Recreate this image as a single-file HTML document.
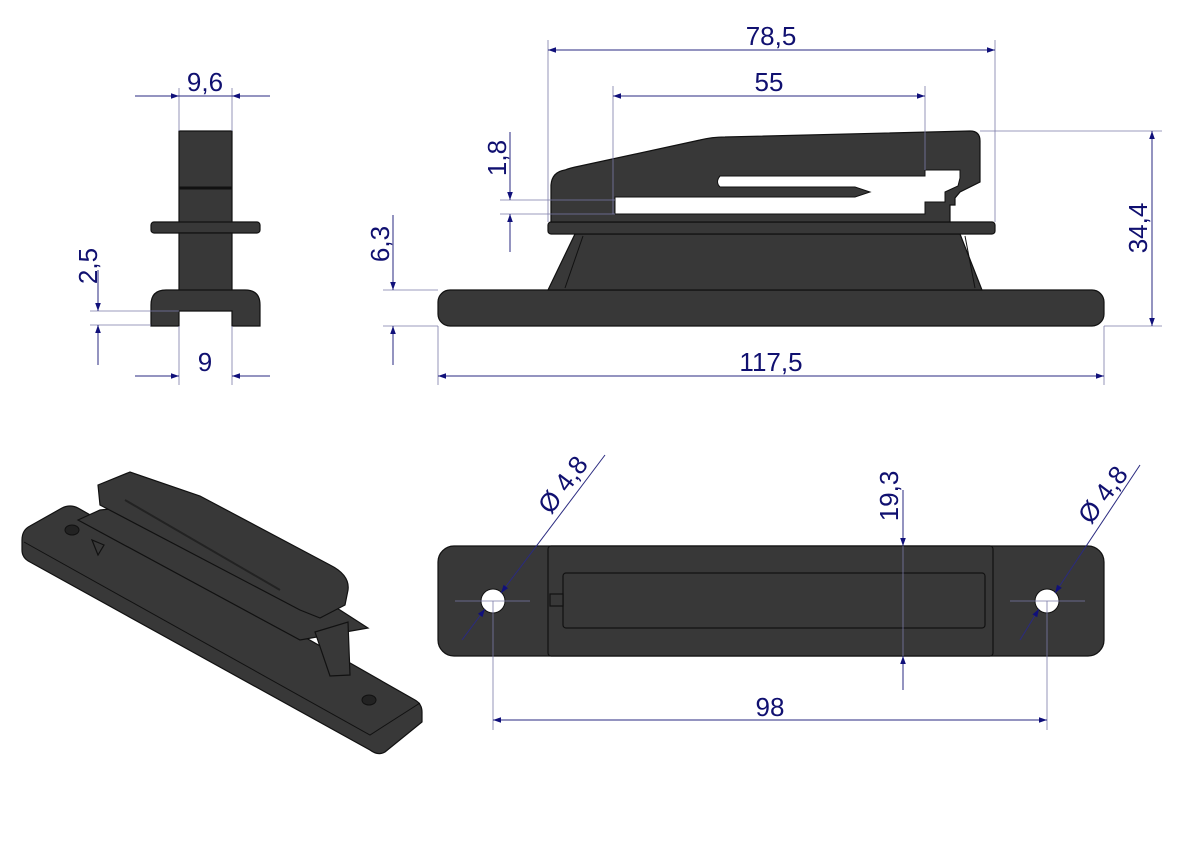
<!DOCTYPE html>
<html><head><meta charset="utf-8"><style>
html,body{margin:0;padding:0;background:#fff}
svg{display:block}
text{font-family:"Liberation Sans",sans-serif;font-size:26px;fill:#101070;text-anchor:middle}
.d{stroke:#2a2a80;stroke-width:1;fill:none}
.e{stroke:#7a7aa8;stroke-width:0.8;fill:none}
.b{fill:#383838;stroke:#111;stroke-width:1.2}
.a{fill:#10107a}
</style></head><body>
<svg width="1191" height="842" viewBox="0 0 1191 842">
<defs>
<marker id="m" viewBox="0 0 10 10" refX="10" refY="5" markerWidth="20" markerHeight="8" orient="auto-start-reverse" markerUnits="userSpaceOnUse"><path d="M0,1.5 L10,5 L0,8.5 z" class="a"/></marker>
</defs>

<!-- FRONT VIEW -->
<rect class="b" x="179" y="131" width="53" height="95"/>
<line x1="179" y1="188" x2="232" y2="188" stroke="#111" stroke-width="3"/>
<rect class="b" x="151" y="222" width="109" height="11" rx="3"/>
<rect class="b" x="179" y="233" width="53" height="60"/>
<path class="b" d="M151,326 L151,305 Q151,290 166,290 L245,290 Q260,290 260,305 L260,326 L232,326 L232,311 L179,311 L179,326 Z"/>
<line class="e" x1="179" y1="131" x2="179" y2="88"/><line class="e" x1="232" y1="131" x2="232" y2="88"/>
<line class="d" x1="135" y1="96" x2="179" y2="96" marker-end="url(#m)"/><line class="d" x1="270" y1="96" x2="232" y2="96" marker-end="url(#m)"/>
<line class="d" x1="179" y1="96" x2="232" y2="96"/>
<text x="205" y="91">9,6</text>
<line class="e" x1="179" y1="326" x2="179" y2="385"/><line class="e" x1="232" y1="326" x2="232" y2="385"/>
<line class="d" x1="135" y1="376" x2="179" y2="376" marker-end="url(#m)"/><line class="d" x1="270" y1="376" x2="232" y2="376" marker-end="url(#m)"/>
<text x="205" y="371">9</text>
<line class="e" x1="90" y1="311" x2="179" y2="311"/><line class="e" x1="90" y1="325" x2="151" y2="325"/>
<line class="d" x1="98" y1="270" x2="98" y2="311" marker-end="url(#m)"/><line class="d" x1="98" y1="365" x2="98" y2="325" marker-end="url(#m)"/>
<text transform="translate(97,266) rotate(-90)">2,5</text>

<!-- SIDE VIEW -->
<rect class="b" x="438" y="290" width="666" height="36" rx="12"/>
<path class="b" d="M548,290 L575,234 L960,234 L982,290 Z"/>
<path d="M565,288 L583,236 M965,236 L975,288" stroke="#111" stroke-width="1"/>
<rect class="b" x="548" y="222" width="447" height="12" rx="3"/>
<path class="b" d="M551,222 L551,185 Q552,172 565,170 Q570,168 580,166 L700,140 Q712,137 725,137 L970,131 Q980,131 980,141 L980,182 L960,192 L955,198 L955,205 L950,205 L950,222 Z"/>
<path fill="#fff" stroke="#111" d="M615,214 L615,197 L855,197 L870,192 L855,187 L720,187 Q715,182 720,176 L925,176 L925,170 L960,170 L960,178 L958,186 L945,192 L945,202 L925,202 L925,214 Z"/>
<line class="e" x1="548" y1="222" x2="548" y2="40"/><line class="e" x1="995" y1="222" x2="995" y2="40"/>
<line class="d" x1="548" y1="50" x2="995" y2="50" marker-start="url(#m)" marker-end="url(#m)"/>
<text x="771" y="45">78,5</text>
<line class="e" x1="613" y1="214" x2="613" y2="86"/><line class="e" x1="925" y1="170" x2="925" y2="86"/>
<line class="d" x1="613" y1="96" x2="925" y2="96" marker-start="url(#m)" marker-end="url(#m)"/>
<text x="769" y="91">55</text>
<line class="e" x1="980" y1="131" x2="1162" y2="131"/><line class="e" x1="1104" y1="326" x2="1162" y2="326"/>
<line class="d" x1="1152" y1="131" x2="1152" y2="326" marker-start="url(#m)" marker-end="url(#m)"/>
<text transform="translate(1147,228) rotate(-90)">34,4</text>
<line class="e" x1="438" y1="326" x2="438" y2="385"/><line class="e" x1="1104" y1="326" x2="1104" y2="385"/>
<line class="d" x1="438" y1="376" x2="1104" y2="376" marker-start="url(#m)" marker-end="url(#m)"/>
<text x="771" y="371">117,5</text>
<line class="e" x1="383" y1="290" x2="438" y2="290"/><line class="e" x1="383" y1="326" x2="438" y2="326"/>
<line class="d" x1="393" y1="215" x2="393" y2="290" marker-end="url(#m)"/><line class="d" x1="393" y1="365" x2="393" y2="326" marker-end="url(#m)"/>
<text transform="translate(389,244) rotate(-90)">6,3</text>
<line class="e" x1="500" y1="200" x2="615" y2="200"/><line class="e" x1="500" y1="214" x2="615" y2="214"/>
<line class="d" x1="510" y1="132" x2="510" y2="200" marker-end="url(#m)"/><line class="d" x1="510" y1="252" x2="510" y2="214" marker-end="url(#m)"/>
<text transform="translate(506,158) rotate(-90)">1,8</text>

<!-- TOP VIEW -->
<rect class="b" x="438" y="546" width="666" height="110" rx="16"/>
<rect class="b" x="548" y="546" width="445" height="110" rx="3"/>
<rect class="b" x="563" y="573" width="422" height="55" rx="3" fill="#303030"/>
<rect class="b" x="550" y="594" width="13" height="12"/>
<circle cx="493" cy="601" r="12" fill="#fff" stroke="#111"/>
<circle cx="1047" cy="601" r="12" fill="#fff" stroke="#111"/>
<line class="e" x1="455" y1="601" x2="530" y2="601"/><line class="e" x1="1010" y1="601" x2="1085" y2="601"/>
<line class="e" x1="493" y1="601" x2="493" y2="730"/><line class="e" x1="1047" y1="601" x2="1047" y2="730"/>
<line class="d" x1="493" y1="720" x2="1047" y2="720" marker-start="url(#m)" marker-end="url(#m)"/>
<text x="770" y="716">98</text>
<line class="d" x1="903" y1="490" x2="903" y2="546" marker-end="url(#m)"/><line class="d" x1="903" y1="690" x2="903" y2="656" marker-end="url(#m)"/>
<line class="e" x1="903" y1="546" x2="903" y2="656"/>
<text transform="translate(898,496) rotate(-90)">19,3</text>
<line class="d" x1="462" y1="640" x2="485" y2="609" marker-end="url(#m)"/>
<line class="d" x1="605" y1="455" x2="501" y2="593" marker-end="url(#m)"/>
<text transform="translate(570,490) rotate(-53)">Ø 4,8</text>
<line class="d" x1="1020" y1="640" x2="1039" y2="609" marker-end="url(#m)"/>
<line class="d" x1="1140" y1="465" x2="1055" y2="593" marker-end="url(#m)"/>
<text transform="translate(1110,500) rotate(-53)">Ø 4,8</text>

<!-- ISOMETRIC -->
<path class="b" d="M22,540 Q22,530 30,526 L62,508 Q70,504 78,508 L415,700 Q422,704 422,712 L422,722 L385,752 Q378,756 370,750 L30,562 Q22,558 22,550 Z"/>
<path d="M24,542 L370,735 L420,703" stroke="#111" fill="none"/>
<path class="b" d="M78,520 L300,640 L368,628 L340,610 L150,505 L100,510 Z"/>
<path class="b" d="M92,540 L98,555 L104,545 Z"/>
<path class="b" d="M315,632 L348,622 L350,675 L330,676 Z"/>
<path class="b" d="M98,485 L130,472 L200,496 L330,565 Q350,575 348,590 L345,605 L320,618 L300,610 L100,505 Z"/>
<path d="M125,500 L280,590" stroke="#222" stroke-width="2"/>
<ellipse cx="72" cy="530" rx="7" ry="5" fill="#222" stroke="#111"/>
<ellipse cx="369" cy="700" rx="7" ry="5" fill="#222" stroke="#111"/>
</svg>
</body></html>
